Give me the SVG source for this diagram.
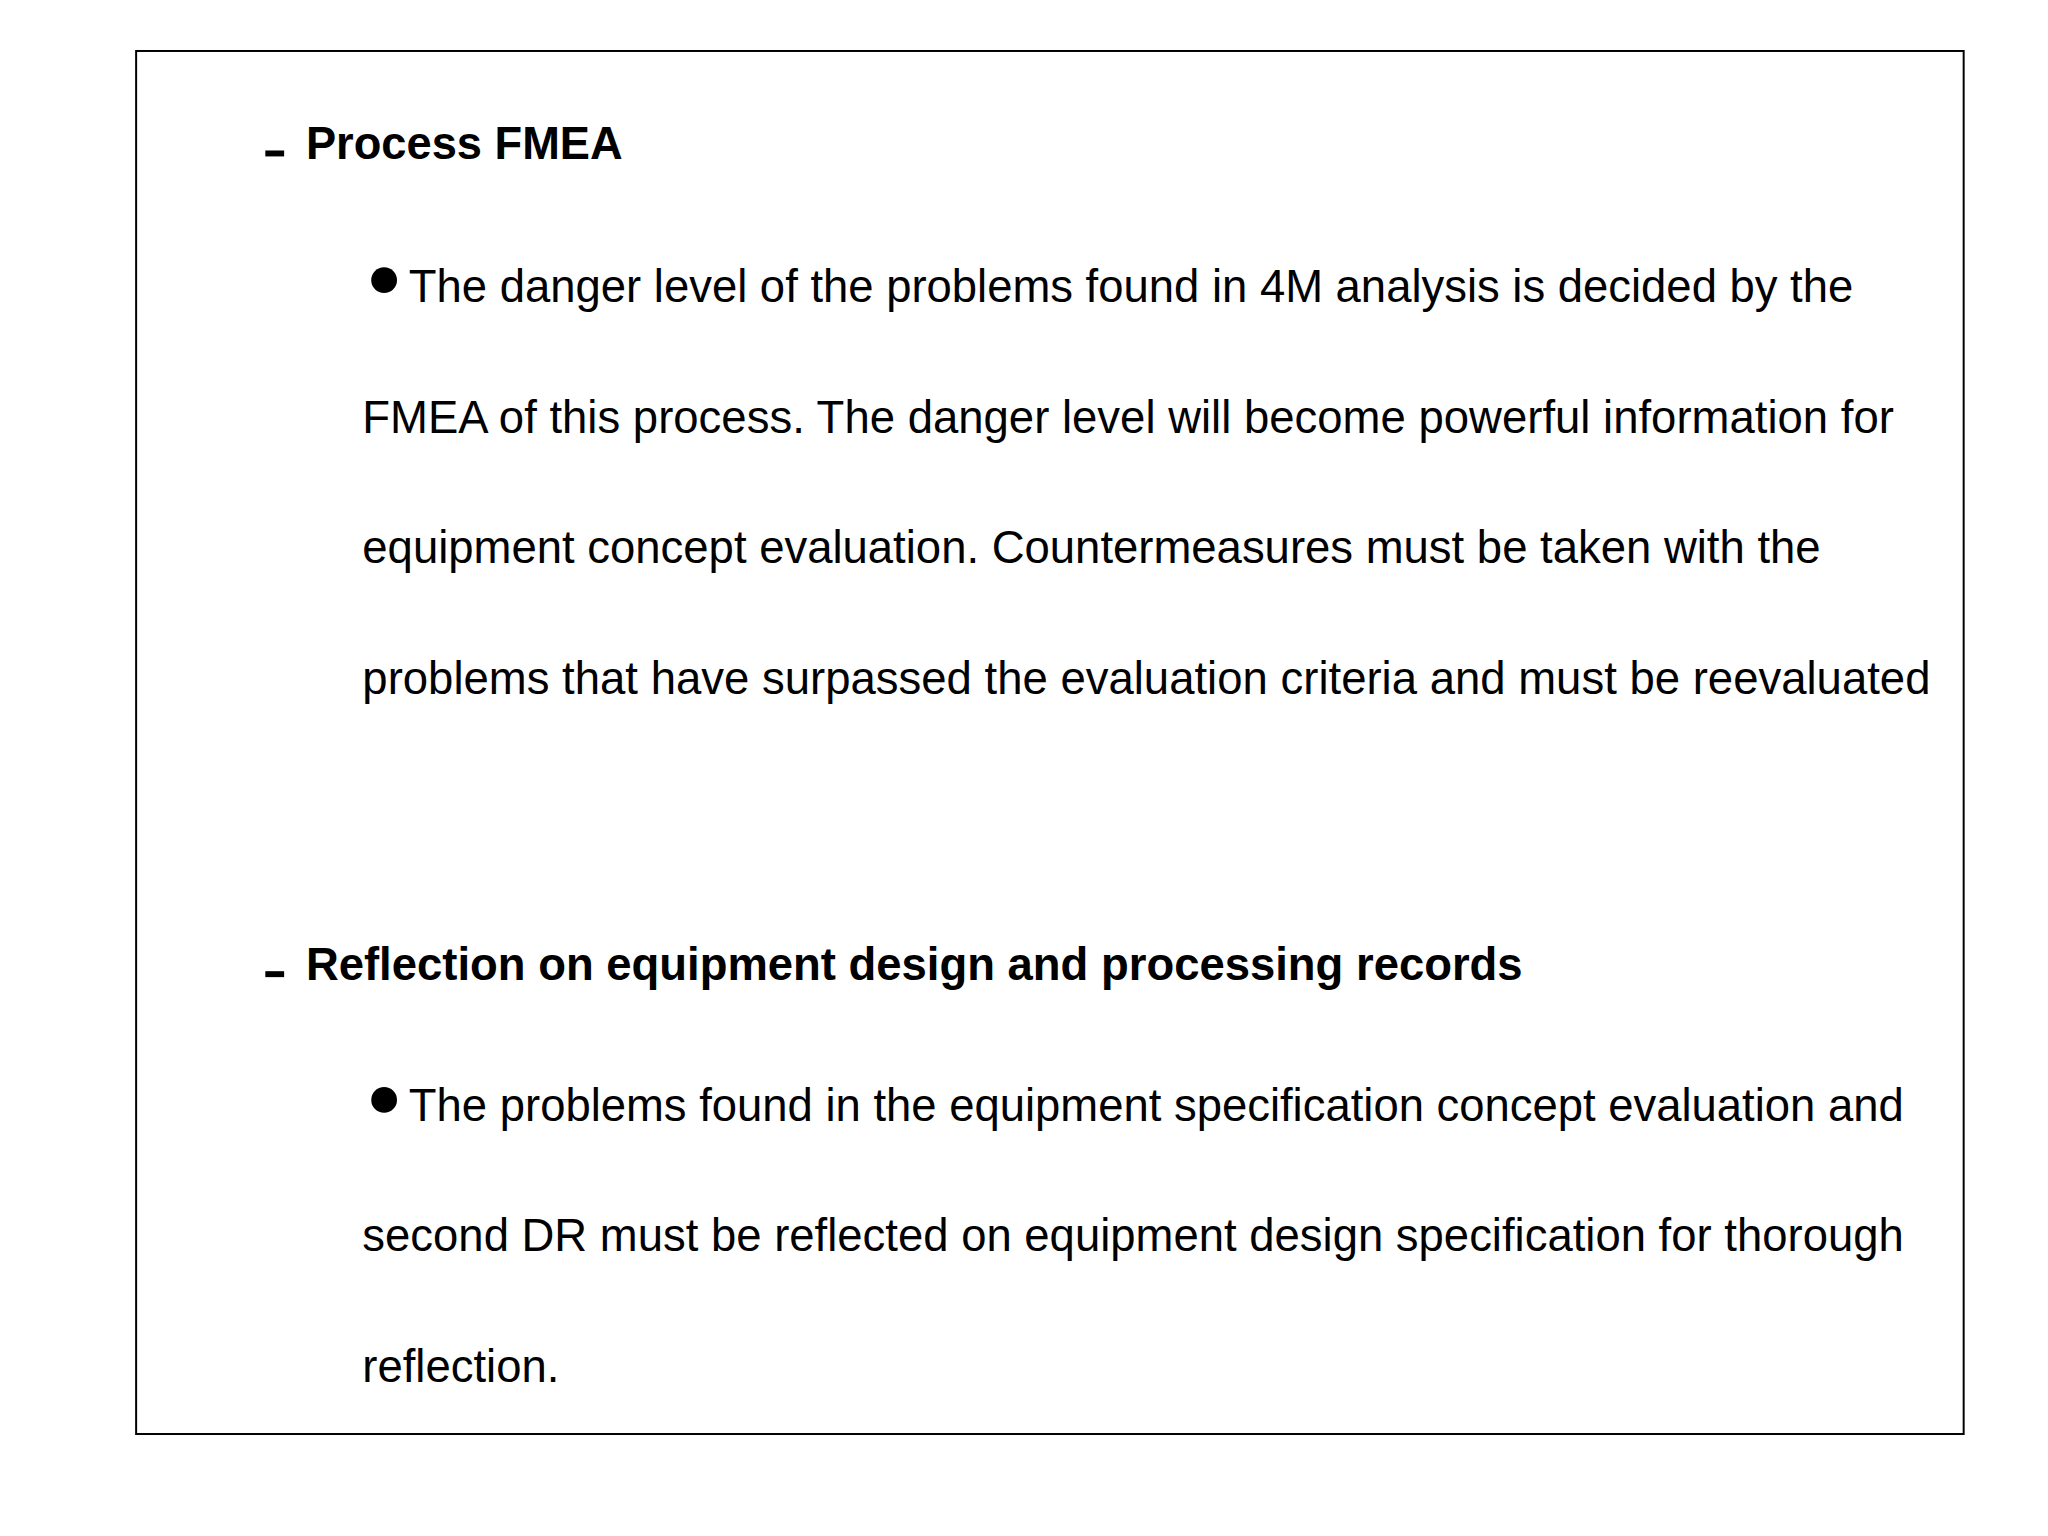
<svg xmlns="http://www.w3.org/2000/svg" width="2048" height="1536" viewBox="0 0 2048 1536">
<style>
.h{font-family:"Liberation Sans",Arial,sans-serif;font-size:46px;font-weight:bold;fill:#000}
.t{font-family:"Liberation Sans",Arial,sans-serif;font-size:46px;fill:#000}
</style>
<rect width="2048" height="1536" fill="#fff"/>
<g transform="scale(0.99)">
<rect x="137.5" y="51.5" width="1846" height="1397" fill="none" stroke="#000" stroke-width="2"/>
<g id="sec1">
<rect x="268" y="152" width="19" height="6" fill="#000"/>
<text class="h" x="309" y="161" textLength="320" lengthAdjust="spacingAndGlyphs">Process FMEA</text>
<circle cx="388" cy="283" r="13" fill="#000"/>
<text class="t" x="413" y="305" textLength="1459" lengthAdjust="spacingAndGlyphs">The danger level of the problems found in 4M analysis is decided by the</text>
<text class="t" x="366" y="437" textLength="1547" lengthAdjust="spacingAndGlyphs">FMEA of this process. The danger level will become powerful information for</text>
<text class="t" x="366" y="569" textLength="1473" lengthAdjust="spacingAndGlyphs">equipment concept evaluation. Countermeasures must be taken with the</text>
<text class="t" x="366" y="701" textLength="1584" lengthAdjust="spacingAndGlyphs">problems that have surpassed the evaluation criteria and must be reevaluated</text>
</g>
<g id="sec2">
<rect x="268" y="981" width="19" height="6" fill="#000"/>
<text class="h" x="309" y="990" textLength="1229" lengthAdjust="spacingAndGlyphs">Reflection on equipment design and processing records</text>
<circle cx="388" cy="1111" r="13" fill="#000"/>
<text class="t" x="413" y="1132" textLength="1510" lengthAdjust="spacingAndGlyphs">The problems found in the equipment specification concept evaluation and</text>
<text class="t" x="366" y="1264" textLength="1557" lengthAdjust="spacingAndGlyphs">second DR must be reflected on equipment design specification for thorough</text>
<text class="t" x="366" y="1396" textLength="199" lengthAdjust="spacingAndGlyphs">reflection.</text>
</g>
</g>
</svg>
